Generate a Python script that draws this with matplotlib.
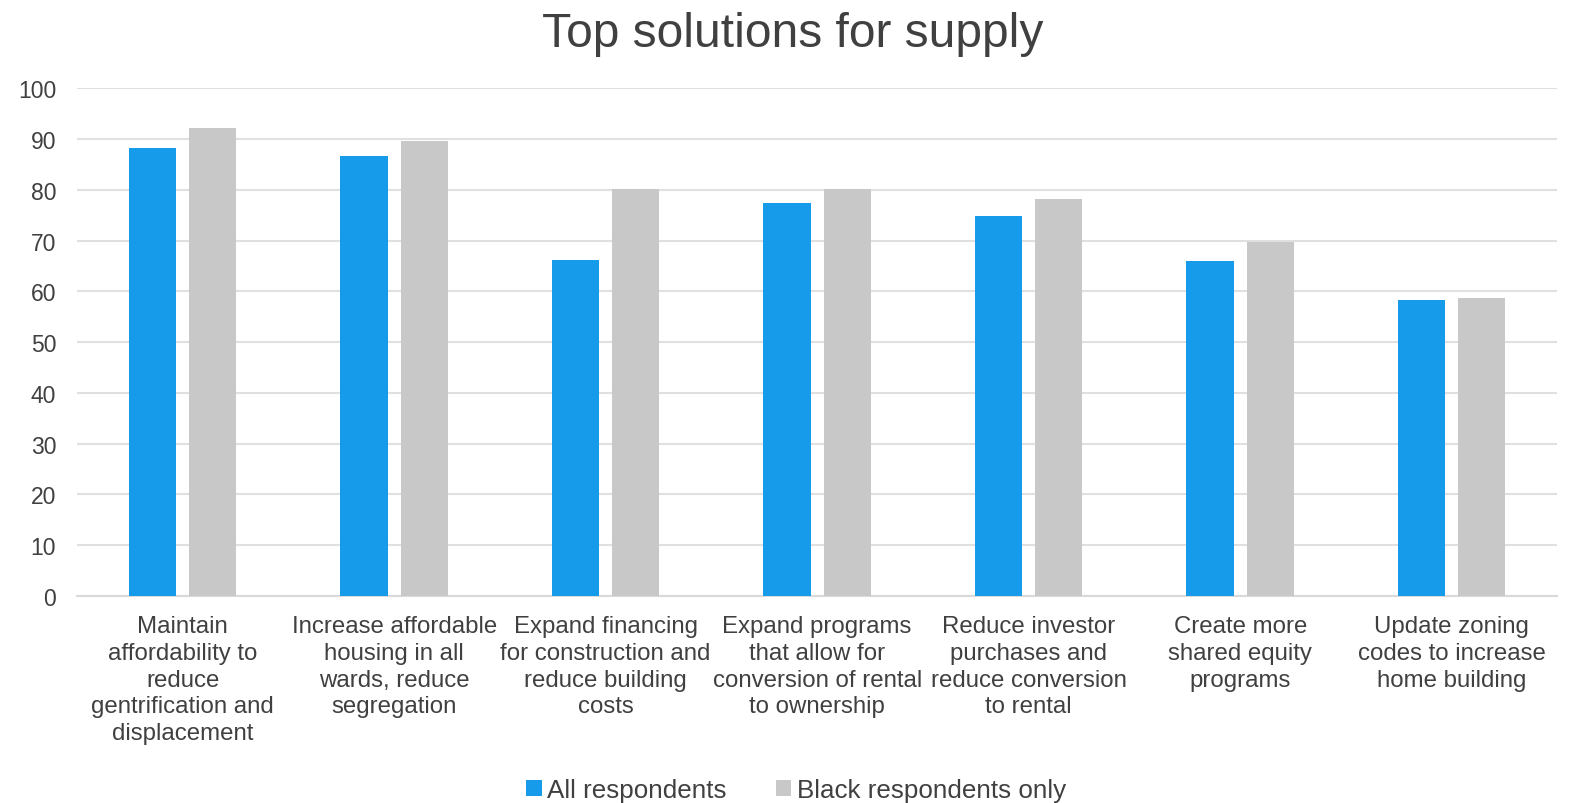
import matplotlib
matplotlib.use("Agg")
import matplotlib.pyplot as plt
import numpy as np

categories = [
    "Maintain\naffordability to\nreduce\ngentrification and\ndisplacement",
    "Increase affordable\nhousing in all\nwards, reduce\nsegregation",
    "Expand financing\nfor construction and\nreduce building\ncosts",
    "Expand programs\nthat allow for\nconversion of rental\nto ownership",
    "Reduce investor\npurchases and\nreduce conversion\nto rental",
    "Create more\nshared equity\nprograms",
    "Update zoning\ncodes to increase\nhome building",
]
all_respondents = [88.3, 86.7, 66.1, 77.3, 74.9, 65.9, 58.2]
black_respondents = [92.1, 89.6, 80.1, 80.1, 78.1, 69.8, 58.6]
yticks = [0, 10, 20, 30, 40, 50, 60, 70, 80, 90, 100]

plt.rcParams['font.family'] = ['Liberation Sans', 'DejaVu Sans']
fig = plt.figure(figsize=(15.7, 8.04), dpi=100)
ax = fig.add_axes([0.049, 0.2575, 0.943, 0.6315])

x = np.arange(len(categories))
w = 0.224
off = 0.142
ax.bar(x - off, all_respondents, w, color="#169BEB", label="All respondents", zorder=3)
ax.bar(x + off, black_respondents, w, color="#C8C8C8", label="Black respondents only", zorder=3)

ax.set_xlim(-0.5, len(categories) - 0.5)
ax.set_ylim(0, 100)
ax.set_yticks(yticks)
ax.set_yticklabels([str(t) for t in yticks], fontsize=16.5, color="#404040")
ax.set_xticks(x)
ax.set_xticklabels(categories, fontsize=17.3, color="#404040", linespacing=1.27)
ax.tick_params(axis='both', length=0)
ax.tick_params(axis='y', pad=15)
ax.tick_params(axis='x', pad=14)
ax.yaxis.grid(True, color="#E0E0E0", linewidth=1.5, zorder=0)
for s in ["top", "right", "left"]:
    ax.spines[s].set_visible(False)
ax.spines["bottom"].set_color("#D9D9D9")
ax.spines["bottom"].set_linewidth(1.5)

fig.suptitle("Top solutions for supply", fontsize=34.5, color="#404040", x=0.505, y=0.985, va="top")

leg = fig.legend(loc="lower center", bbox_to_anchor=(0.507, -0.028), ncol=2, frameon=False,
                 fontsize=18.7, handlelength=0.6, handleheight=0.6, handletextpad=0.2,
                 columnspacing=1.9)
for t in leg.get_texts():
    t.set_color("#404040")

fig.savefig("out.png", dpi=100)
